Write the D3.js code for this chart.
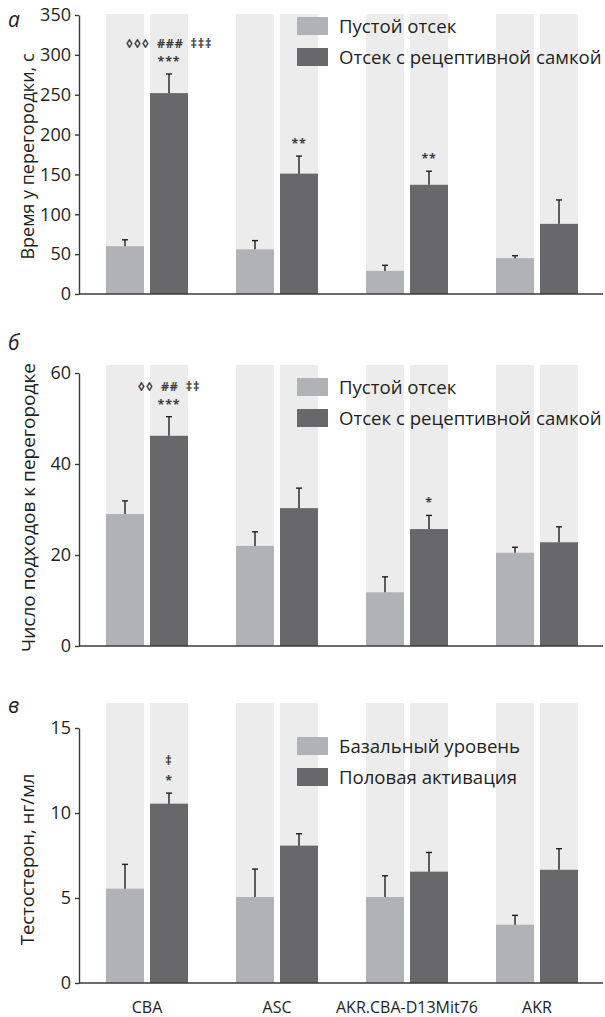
<!DOCTYPE html>
<html>
<head>
<meta charset="utf-8">
<script src="https://cdnjs.cloudflare.com/ajax/libs/d3/7.8.5/d3.min.js"></script>
<style>
  body { margin: 0; background: #fff; }
  text { font-family: "Open Sans", "DejaVu Sans", sans-serif; fill: #231f20; }
</style>
</head>
<body>
<div id="chart"></div>
<script>
// data
var strains = ["CBA", "ASC", "AKR.CBA-D13Mit76", "AKR"];

var timeEmpty = [60, 56, 29, 45];
var timeEmptyErr = [8, 11, 7, 3];
var timeFemale = [252, 151, 137, 88];
var timeFemaleErr = [24, 22, 17, 30];
var timeMarks = [["◊◊◊ ### ‡‡‡", "***"], ["**"], ["**"], []];

var approachEmpty = [29, 22, 11.8, 20.5];
var approachEmptyErr = [2.9, 3.1, 3.4, 1.2];
var approachFemale = [46.2, 30.3, 25.7, 22.8];
var approachFemaleErr = [4.2, 4.4, 3.0, 3.4];
var approachMarks = [["◊◊ ## ‡‡", "***"], [], ["*"], []];

var testoBasal = [5.55, 5.06, 5.06, 3.43];
var testoBasalErr = [1.43, 1.64, 1.25, 0.55];
var testoActive = [10.55, 8.08, 6.55, 6.66];
var testoActiveErr = [0.62, 0.7, 1.13, 1.24];
var testoMarks = [["‡", "*"], [], [], []];

var legendBehaviour = ["Пустой отсек", "Отсек с рецептивной самкой"];
var legendTesto = ["Базальный уровень", "Половая активация"];

var ticksTime = [0, 50, 100, 150, 200, 250, 300, 350];
var ticksApproach = [0, 20, 40, 60];
var ticksTesto = [0, 5, 10, 15];

// chart setup
var svgWidth = 605;
var svgHeight = 1017;
var lightColor = "#b1b2b5";
var darkColor = "#68686a";
var bgColor = "#ececec";

var svg = d3.select("#chart")
    .append("svg")
    .attr("width", svgWidth)
    .attr("height", svgHeight);

var x = d3.scaleBand()
    .domain(strains)
    .range([82, 602]);

var barW = 38;
var barGap = 6;

function drawPanel(p) {
    var g = svg.append("g");

    var y = d3.scaleLinear()
        .domain([0, p.max])
        .range([p.bottom, p.top]);

    var series = [
        { vals: p.a, errs: p.aErr, color: lightColor, off: -barGap / 2 - barW },
        { vals: p.b, errs: p.bErr, color: darkColor, off: barGap / 2 }
    ];

    // grey background columns
    series.forEach(function(s) {
        g.selectAll(null)
            .data(strains)
            .enter()
            .append("rect")
            .attr("x", d => x(d) + x.bandwidth() / 2 + s.off)
            .attr("y", p.bgTop)
            .attr("width", barW)
            .attr("height", p.bottom - p.bgTop)
            .attr("fill", bgColor);
    });

    // bars and error bars
    series.forEach(function(s) {
        var rows = strains.map((d, i) => ({ k: d, v: s.vals[i], e: s.errs[i] }));
        g.selectAll(null)
            .data(rows)
            .enter()
            .append("rect")
            .attr("x", d => x(d.k) + x.bandwidth() / 2 + s.off)
            .attr("y", d => y(d.v))
            .attr("width", barW)
            .attr("height", d => p.bottom - y(d.v))
            .attr("fill", s.color);

        var eb = g.selectAll(null)
            .data(rows)
            .enter()
            .append("g")
            .attr("stroke", "#231f20")
            .attr("stroke-width", 1.4);
        eb.append("line")
            .attr("x1", d => x(d.k) + x.bandwidth() / 2 + s.off + barW / 2)
            .attr("x2", d => x(d.k) + x.bandwidth() / 2 + s.off + barW / 2)
            .attr("y1", d => y(d.v))
            .attr("y2", d => y(d.v + d.e));
        eb.append("line")
            .attr("x1", d => x(d.k) + x.bandwidth() / 2 + s.off + barW / 2 - 3)
            .attr("x2", d => x(d.k) + x.bandwidth() / 2 + s.off + barW / 2 + 3)
            .attr("y1", d => y(d.v + d.e))
            .attr("y2", d => y(d.v + d.e));
    });

    // significance marks over the dark bars
    strains.forEach(function(k, i) {
        var marks = p.marks[i];
        var top = y(p.b[i] + p.bErr[i]);
        marks.forEach(function(m, j) {
            g.append("text")
                .attr("x", x(k) + x.bandwidth() / 2 + barGap / 2 + barW / 2)
                .attr("y", top - 8 - (marks.length - 1 - j) * p.markStep)
                .attr("text-anchor", "middle")
                .attr("font-size", 12.5)
                .attr("font-weight", "bold")
                .attr("letter-spacing", 0.8)
                .attr("word-spacing", 3)
                .style("fill", "#3d3d3d")
                .text(m);
        });
    });

    // axes
    var leftAxis = d3.axisLeft(y)
        .tickValues(p.ticks)
        .tickSize(4)
        .tickSizeOuter(0)
        .tickPadding(4);
    var ax = g.append("g")
        .attr("transform", "translate(79,0)")
        .call(leftAxis);
    ax.selectAll("text").attr("font-size", 18).style("font-family", "Open Sans");
    ax.selectAll("path, line").attr("stroke", "#3a3a3a").attr("stroke-width", 1.4);

    g.append("line")
        .attr("x1", 79)
        .attr("x2", 603)
        .attr("y1", p.bottom)
        .attr("y2", p.bottom)
        .attr("stroke", "#3a3a3a")
        .attr("stroke-width", 1.4);

    // axis title
    g.append("text")
        .attr("transform", "translate(28," + ((p.top + p.bottom) / 2 + p.titleShift) + ") rotate(-90)")
        .attr("text-anchor", "middle")
        .attr("dy", "0.35em")
        .attr("font-size", p.titleSize)
        .text(p.title);

    // panel letter
    g.append("text")
        .attr("x", 8)
        .attr("y", p.letterY)
        .attr("font-size", 21)
        .attr("font-style", "italic")
        .text(p.letter);

    // legend
    var colors = [lightColor, darkColor];
    p.legend.forEach(function(t, i) {
        g.append("rect")
            .attr("x", 297)
            .attr("y", p.legendY + i * 31)
            .attr("width", 31)
            .attr("height", 18)
            .attr("fill", colors[i]);
        g.append("text")
            .attr("x", 339)
            .attr("y", p.legendY + i * 31 + 16)
            .attr("font-size", 18.6)
            .text(t);
    });
}

drawPanel({
    letter: "а", letterY: 27, max: 350, top: 15, bottom: 294, bgTop: 14,
    ticks: ticksTime, title: "Время у перегородки, с", titleSize: 18, titleShift: 2,
    a: timeEmpty, aErr: timeEmptyErr, b: timeFemale, bErr: timeFemaleErr,
    marks: timeMarks, markStep: 17.5, legend: legendBehaviour, legendY: 17
});

drawPanel({
    letter: "б", letterY: 350, max: 60, top: 373, bottom: 646, bgTop: 365,
    ticks: ticksApproach, title: "Число подходов к перегородке", titleSize: 19, titleShift: -2,
    a: approachEmpty, aErr: approachEmptyErr, b: approachFemale, bErr: approachFemaleErr,
    marks: approachMarks, markStep: 18, legend: legendBehaviour, legendY: 378
});

drawPanel({
    letter: "в", letterY: 713, max: 15, top: 728, bottom: 983, bgTop: 703,
    ticks: ticksTesto, title: "Тестостерон, нг/мл", titleSize: 18.5, titleShift: 4,
    a: testoBasal, aErr: testoBasalErr, b: testoActive, bErr: testoActiveErr,
    marks: testoMarks, markStep: 20, legend: legendTesto, legendY: 737
});

// strain labels under the bottom panel
svg.selectAll(".strain")
    .data(strains)
    .enter()
    .append("text")
    .attr("class", "strain")
    .attr("x", d => x(d) + x.bandwidth() / 2)
    .attr("y", 1013)
    .attr("text-anchor", "middle")
    .attr("font-size", 16)
    .text(d => d);
</script>
</body>
</html>
